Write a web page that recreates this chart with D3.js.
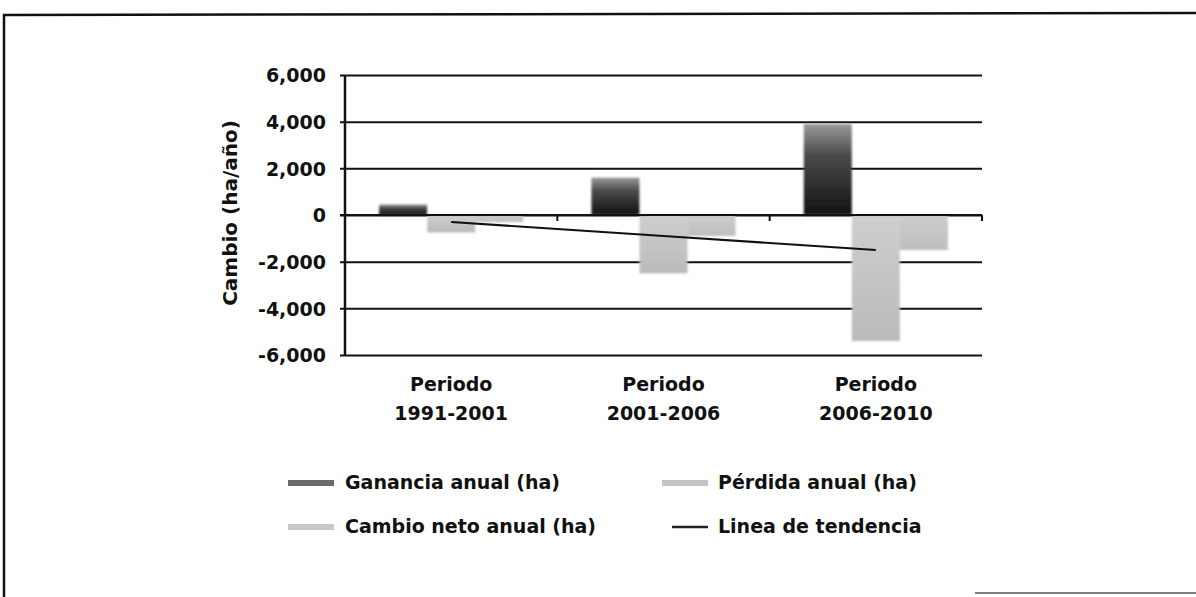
<!DOCTYPE html>
<html><head><meta charset="utf-8">
<script src="https://cdn.jsdelivr.net/npm/d3@7"></script>
<style>body{margin:0;background:#fff}</style>
</head><body><svg id="c" width="1196" height="597"></svg>
<script>
const categoryKeys = ["1991-2001", "2001-2006", "2006-2010"];
const categoryTop = ["Periodo", "Periodo", "Periodo"];
const ganancia = [450, 1600, 3900];
const perdida = [-750, -2500, -5400];
const neto = [-300, -900, -1500];
const tendencia = [-300, -900, -1500];
const yTicks = [6000, 4000, 2000, 0, -2000, -4000, -6000];
const seriesNames = ["Ganancia anual (ha)", "Pérdida anual (ha)", "Cambio neto anual (ha)", "Linea de tendencia"];
const yTitle = "Cambio  (ha/año)";

const svg = d3.select("#c");
const font = "'DejaVu Sans', Verdana, sans-serif";

// frame
svg.append("path").attr("d", "M4,597 L4,15 L1196,13").attr("fill", "none").attr("stroke", "#111").attr("stroke-width", 2.5);
svg.append("line").attr("x1", 975).attr("x2", 1196).attr("y1", 593).attr("y2", 593).attr("stroke", "#555").attr("stroke-width", 1.5);

const x = d3.scaleBand().domain(categoryKeys).range([345, 982]).paddingInner(0).paddingOuter(0);
const x1 = d3.scaleBand().domain(["g", "p", "n"]).range([0, x.bandwidth()]).paddingInner(0).paddingOuter(0.71);
const y = d3.scaleLinear().domain([-6000, 6000]).range([355, 75]);

const defs = svg.append("defs");
function grad(id, stops) {
  const g = defs.append("linearGradient").attr("id", id).attr("x1", 0).attr("y1", 0).attr("x2", 0).attr("y2", 1);
  stops.forEach(s => g.append("stop").attr("offset", s[0]).attr("stop-color", s[1]));
}
grad("gG", [[0, "#9a9a9a"], [0.35, "#4a4a4a"], [1, "#121212"]]);
grad("gP", [[0, "#cfcfcf"], [1, "#bababa"]]);
grad("gN", [[0, "#cdcdcd"], [1, "#bebebe"]]);
defs.append("filter").attr("id", "blur").append("feGaussianBlur").attr("stdDeviation", 1);

function styleText(sel, size) {
  return sel.attr("font-family", font).attr("font-size", size).attr("font-weight", "bold").attr("fill", "#111");
}

// gridlines via axis
const fmt = d => d3.format(",")(d).replace("\u2212", "-");
const yAxis = d3.axisLeft(y).tickValues(yTicks).tickSize(-(982 - 340)).tickFormat(fmt);
const ga = svg.append("g").attr("transform", "translate(340,0)").call(yAxis);
ga.select(".domain").remove();
ga.selectAll(".tick line").attr("stroke", "#111").attr("stroke-width", 2);
styleText(ga.selectAll(".tick text").attr("x", -14).attr("dy", "0.36em"), 19);

// bars
const series = [
  { key: "g", vals: ganancia, fill: "url(#gG)" },
  { key: "p", vals: perdida, fill: "url(#gP)" },
  { key: "n", vals: neto, fill: "url(#gN)" }
];
const barsG = svg.append("g").attr("filter", "url(#blur)");
series.forEach(s => {
  barsG.selectAll(null).data(s.vals).enter().append("rect")
    .attr("x", (d, i) => x(categoryKeys[i]) + x1(s.key))
    .attr("width", x1.bandwidth())
    .attr("y", d => y(Math.max(0, d)))
    .attr("height", d => Math.abs(y(d) - y(0)))
    .attr("fill", s.fill);
});

// zero line redraw + left axis
svg.append("line").attr("x1", 340).attr("x2", 982).attr("y1", y(0)).attr("y2", y(0)).attr("stroke", "#111").attr("stroke-width", 2);
svg.append("line").attr("x1", 345).attr("x2", 345).attr("y1", y(6000)).attr("y2", y(-6000)).attr("stroke", "#111").attr("stroke-width", 2.5);
categoryKeys.forEach((k, i) => {
  const xx = x(k) + x.bandwidth();
  svg.append("line").attr("x1", xx).attr("x2", xx).attr("y1", y(0)).attr("y2", y(0) + 6).attr("stroke", "#111").attr("stroke-width", 2);
});

// trend line
const line = d3.line().x((d, i) => x(categoryKeys[i]) + x.bandwidth() / 2).y(d => y(d));
svg.append("path").datum(tendencia).attr("d", line).attr("fill", "none").attr("stroke", "#111").attr("stroke-width", 2.2);

// category labels
categoryKeys.forEach((k, i) => {
  const cx = x(k) + x.bandwidth() / 2;
  const t = styleText(svg.append("text").attr("x", cx).attr("text-anchor", "middle"), 19);
  t.append("tspan").attr("x", cx).attr("y", 391).text(categoryTop[i]);
  t.append("tspan").attr("x", cx).attr("y", 420).text(k);
});

// y title
styleText(svg.append("text").attr("transform", "translate(237,213) rotate(-90)").attr("text-anchor", "middle"), 20).text(yTitle);

// legend
const legendItems = [
  { name: seriesNames[0], x1: 288, x2: 334, tx: 345, y: 489, color: "#6a6a6a", w: 6 },
  { name: seriesNames[1], x1: 662, x2: 708, tx: 718, y: 489, color: "#c4c4c4", w: 6 },
  { name: seriesNames[2], x1: 288, x2: 334, tx: 345, y: 533, color: "#c8c8c8", w: 6 },
  { name: seriesNames[3], x1: 672, x2: 708, tx: 718, y: 533, color: "#222", w: 2.5 }
];
legendItems.forEach(it => {
  svg.append("line").attr("x1", it.x1).attr("x2", it.x2).attr("y1", it.y - 6).attr("y2", it.y - 6)
    .attr("stroke", it.color).attr("stroke-width", it.w);
  styleText(svg.append("text").attr("x", it.tx).attr("y", it.y), 19).text(it.name);
});
</script></body></html>
